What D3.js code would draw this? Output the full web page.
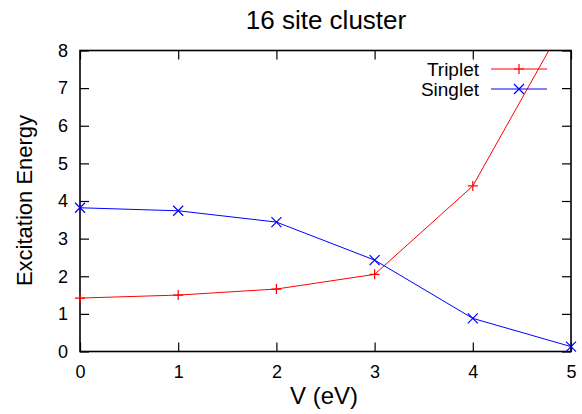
<!DOCTYPE html>
<html>
<head>
<meta charset="utf-8">
<script src="https://cdn.jsdelivr.net/npm/d3@7"></script>
<style>
  body { margin: 0; background: #fff; }
  text { font-family: "Liberation Sans", Arial, sans-serif; fill: #000; }
</style>
</head>
<body>
<svg width="582" height="414"></svg>
<script>
// data
var vValues = [0, 1, 2, 3, 4, 5];
var triplet = [1.42, 1.50, 1.66, 2.05, 4.40, 9.05];
var singlet = [3.82, 3.74, 3.44, 2.43, 0.88, 0.13];
var xTicks = [0, 1, 2, 3, 4, 5];
var yTicks = [0, 1, 2, 3, 4, 5, 6, 7, 8];
var seriesNames = ['Triplet', 'Singlet'];

var svgWidth = 582;
var svgHeight = 414;
var margin = { top: 50.5, right: 11, bottom: 62.5, left: 80 };

var svg = d3.select('svg');

var x = d3.scaleLinear()
	.domain([0, 5])
	.range([margin.left, svgWidth - margin.right]);

var y = d3.scaleLinear()
	.domain([0, 8])
	.range([svgHeight - margin.bottom, margin.top]);

/* clip for the lines */
svg.append('clipPath').attr('id', 'plotclip')
	.append('rect')
	.attr('x', x(0)).attr('y', y(8))
	.attr('width', x(5) - x(0)).attr('height', y(0) - y(8));

/* axes: ticks point inwards, mirrored on top and right */
var tl = 9;

svg.append('g')
	.attr('transform', 'translate(0,' + y(0) + ')')
	.call(d3.axisBottom(x).tickValues(xTicks).tickSize(-tl).tickPadding(14).tickFormat(d3.format('d')))
	.call(g => g.select('.domain').remove())
	.call(g => g.selectAll('text').attr('font-size', 18));

svg.append('g')
	.attr('transform', 'translate(0,' + y(8) + ')')
	.call(d3.axisTop(x).tickValues(xTicks).tickSize(-tl).tickFormat(''))
	.call(g => g.select('.domain').remove());

svg.append('g')
	.attr('transform', 'translate(' + x(0) + ',0)')
	.call(d3.axisLeft(y).tickValues(yTicks).tickSize(-tl).tickPadding(12).tickFormat(d3.format('d')))
	.call(g => g.select('.domain').remove())
	.call(g => g.selectAll('text').attr('font-size', 18));

svg.append('g')
	.attr('transform', 'translate(' + x(5) + ',0)')
	.call(d3.axisRight(y).tickValues(yTicks).tickSize(-tl).tickFormat(''))
	.call(g => g.select('.domain').remove());

svg.selectAll('.tick line').attr('stroke', '#000').attr('stroke-width', 1.2);

// frame
svg.append('rect')
	.attr('x', x(0)).attr('y', y(8))
	.attr('width', x(5) - x(0)).attr('height', y(0) - y(8))
	.attr('fill', 'none').attr('stroke', '#000').attr('stroke-width', 1.6);

/* lines */
var line = d3.line()
	.x(function(d, i) { return x(vValues[i]); })
	.y(function(d) { return y(d); });

var plot = svg.append('g').attr('clip-path', 'url(#plotclip)');

plot.append('path')
	.datum(triplet)
	.attr('fill', 'none').attr('stroke', '#ff0000').attr('stroke-width', 1)
	.attr('d', line);

plot.append('path')
	.datum(singlet)
	.attr('fill', 'none').attr('stroke', '#0000ff').attr('stroke-width', 1)
	.attr('d', line);

var ms = 5;
function plus(g, cx, cy, col) {
	g.append('path')
		.attr('d', 'M' + (cx - ms) + ',' + cy + 'H' + (cx + ms) + 'M' + cx + ',' + (cy - ms) + 'V' + (cy + ms))
		.attr('stroke', col).attr('stroke-width', 1.2).attr('fill', 'none');
}
function cross(g, cx, cy, col) {
	g.append('path')
		.attr('d', 'M' + (cx - ms) + ',' + (cy - ms) + 'L' + (cx + ms) + ',' + (cy + ms) +
			'M' + (cx - ms) + ',' + (cy + ms) + 'L' + (cx + ms) + ',' + (cy - ms))
		.attr('stroke', col).attr('stroke-width', 1.2).attr('fill', 'none');
}

var marks = svg.append('g');
triplet.forEach(function(d, i) { if (d <= 8) plus(marks, x(vValues[i]), y(d), '#ff0000'); });
singlet.forEach(function(d, i) { cross(marks, x(vValues[i]), y(d), '#0000ff'); });

/* legend */
var legend = svg.append('g');
var legendCols = ['#ff0000', '#0000ff'];
seriesNames.forEach(function(name, i) {
	var ly = 69 + i * 20;
	legend.append('text')
		.attr('x', 479).attr('y', ly).attr('dy', '0.35em')
		.attr('text-anchor', 'end').attr('font-size', 19)
		.text(name);
	legend.append('line')
		.attr('x1', 491).attr('x2', 547).attr('y1', ly).attr('y2', ly)
		.attr('stroke', legendCols[i]).attr('stroke-width', 1);
	if (i === 0) plus(legend, 519, ly, legendCols[i]);
	else cross(legend, 519, ly, legendCols[i]);
});

/* titles */
svg.append('text')
	.attr('x', 326).attr('y', 29)
	.attr('text-anchor', 'middle').attr('font-size', 26)
	.text('16 site cluster');

svg.append('text')
	.attr('x', 324).attr('y', 404)
	.attr('text-anchor', 'middle').attr('font-size', 24)
	.text('V (eV)');

svg.append('text')
	.attr('transform', 'translate(32,200.5) rotate(-90)')
	.attr('text-anchor', 'middle').attr('font-size', 22)
	.text('Excitation Energy');
</script>
</body>
</html>
